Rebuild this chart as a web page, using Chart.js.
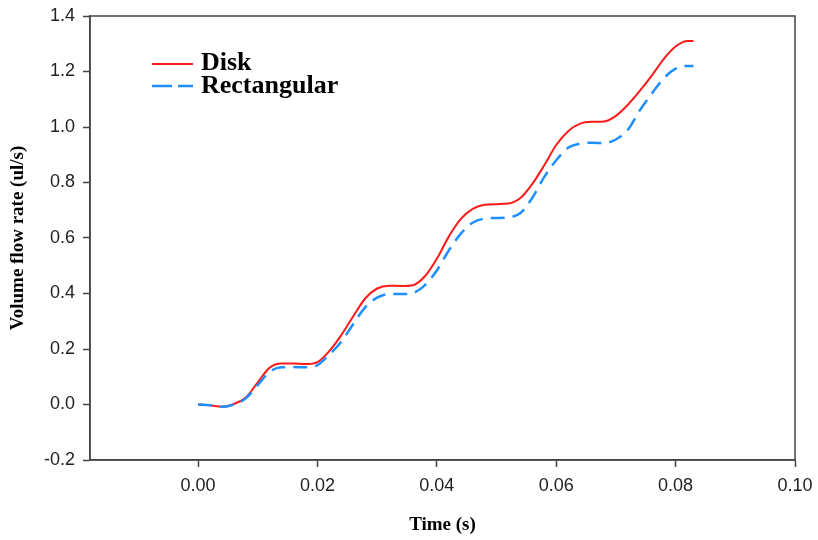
<!DOCTYPE html>
<html>
<head>
<meta charset="utf-8">
<script src="https://cdn.jsdelivr.net/npm/chart.js@4/dist/chart.umd.min.js"></script>
<style>
	html, body { margin: 0; padding: 0; background: #fff; }
	#wrap { width: 818px; height: 540px; }
</style>
</head>
<body>
<div id="wrap"><canvas id="c"></canvas></div>
<script>
const TIME = [0, 0.002, 0.004, 0.006, 0.008, 0.010, 0.012, 0.014, 0.016, 0.018,
	0.020, 0.022, 0.024, 0.026, 0.028, 0.030, 0.032, 0.034, 0.036, 0.038,
	0.040, 0.042, 0.044, 0.046, 0.048, 0.050, 0.052, 0.054, 0.056, 0.058,
	0.060, 0.062, 0.064, 0.066, 0.068, 0.070, 0.072, 0.074, 0.076, 0.078,
	0.080, 0.082, 0.083];
const DISK = [0, -0.003, -0.008, 0.002, 0.025, 0.08, 0.133, 0.148, 0.148, 0.146,
	0.153, 0.193, 0.25, 0.318, 0.382, 0.418, 0.428, 0.427, 0.43, 0.462,
	0.525, 0.605, 0.668, 0.705, 0.72, 0.722, 0.724, 0.744, 0.795, 0.862,
	0.935, 0.985, 1.012, 1.019, 1.02, 1.04, 1.08, 1.13, 1.185, 1.245,
	1.29, 1.31, 1.31];
const RECTANGULAR = [0, -0.003, -0.008, 0.0, 0.022, 0.07, 0.118, 0.134, 0.135, 0.134,
	0.142, 0.18, 0.226, 0.29, 0.35, 0.385, 0.398, 0.398, 0.402, 0.43,
	0.483, 0.555, 0.615, 0.655, 0.67, 0.672, 0.674, 0.69, 0.745, 0.82,
	0.88, 0.925, 0.94, 0.943, 0.942, 0.955, 0.99, 1.06, 1.12, 1.175,
	1.21, 1.22, 1.22];
const X_TICKS = [0, 0.02, 0.04, 0.06, 0.08, 0.10];
const Y_TICKS = [-0.2, 0, 0.2, 0.4, 0.6, 0.8, 1.0, 1.2, 1.4];

const AXIS = '#444';
const RED = '#ff1a1a';
const BLUE = '#1e8fff';
const DASH = [14, 8];

const toPoints = (ys) => TIME.map((t, i) => ({x: t, y: ys[i]}));

// labels must not push the plot area around
const noOverflow = (s) => {
	s.paddingTop = 0; s.paddingBottom = 0;
	s.paddingLeft = 0; s.paddingRight = 0;
};

// box round the plot + legend in the upper left
const framePlugin = {
	id: 'frame',
	afterDraw(chart) {
		const {ctx, chartArea: a} = chart;
		ctx.save();
		ctx.strokeStyle = AXIS;
		ctx.lineWidth = 1.5;
		ctx.strokeRect(a.left, a.top, a.right - a.left, a.bottom - a.top);

		ctx.lineWidth = 2;
		ctx.strokeStyle = RED;
		ctx.beginPath();
		ctx.moveTo(152, 64); ctx.lineTo(193, 64);
		ctx.stroke();
		ctx.strokeStyle = BLUE;
		ctx.lineWidth = 2.5;
		ctx.setLineDash([20, 6]);
		ctx.beginPath();
		ctx.moveTo(152, 86); ctx.lineTo(193, 86);
		ctx.stroke();
		ctx.setLineDash([]);

		ctx.fillStyle = '#000';
		ctx.font = 'bold 26px "Liberation Serif", serif';
		ctx.textBaseline = 'alphabetic';
		ctx.fillText('Disk', 201, 70);
		ctx.fillText('Rectangular', 201, 93);
		ctx.restore();
	}
};

new Chart(document.getElementById('c'), {
	type: 'line',
	data: {
		datasets: [
			{
				label: 'Rectangular',
				data: toPoints(RECTANGULAR),
				borderColor: BLUE,
				borderWidth: 2.5,
				borderDash: DASH,
				pointRadius: 0,
				cubicInterpolationMode: 'monotone',
				order: 0
			},
			{
				label: 'Disk',
				data: toPoints(DISK),
				borderColor: RED,
				borderWidth: 2,
				pointRadius: 0,
				cubicInterpolationMode: 'monotone',
				order: 1
			}
		]
	},
	options: {
		responsive: true,
		maintainAspectRatio: false,
		animation: false,
		layout: {padding: {top: 16, right: 23, left: 0, bottom: 0}},
		plugins: {
			legend: {display: false},
			tooltip: {enabled: false}
		},
		scales: {
			x: {
				type: 'linear',
				min: -0.0181,
				max: 0.1,
				afterBuildTicks: (s) => { s.ticks = X_TICKS.map(v => ({value: v})); },
				afterFit: (s) => { s.height = 80; noOverflow(s); },
				ticks: {
					color: '#222',
					font: {family: '"Liberation Sans", Arial, sans-serif', size: 18},
					padding: 8,
					maxRotation: 0,
					callback: (v) => v.toFixed(2)
				},
				grid: {drawOnChartArea: false, drawTicks: true, tickLength: 7, tickColor: AXIS, tickWidth: 1.5},
				border: {color: AXIS, width: 1.5},
				title: {
					display: true,
					text: 'Time (s)',
					color: '#000',
					font: {family: '"Liberation Serif", serif', size: 19, weight: 'bold'},
					padding: {top: 12}
				}
			},
			y: {
				min: -0.2,
				max: 1.4,
				afterBuildTicks: (s) => { s.ticks = Y_TICKS.map(v => ({value: v})); },
				afterFit: (s) => { s.width = 90; noOverflow(s); },
				ticks: {
					color: '#222',
					font: {family: '"Liberation Sans", Arial, sans-serif', size: 18},
					padding: 8,
					callback: (v) => v.toFixed(1)
				},
				grid: {drawOnChartArea: false, drawTicks: true, tickLength: 7, tickColor: AXIS, tickWidth: 1.5},
				border: {color: AXIS, width: 1.5},
				title: {
					display: true,
					text: 'Volume flow rate (ul/s)',
					color: '#000',
					font: {family: '"Liberation Serif", serif', size: 19, weight: 'bold'},
					padding: {top: 7, bottom: 0}
				}
			}
		}
	},
	plugins: [framePlugin]
});
</script>
</body>
</html>
